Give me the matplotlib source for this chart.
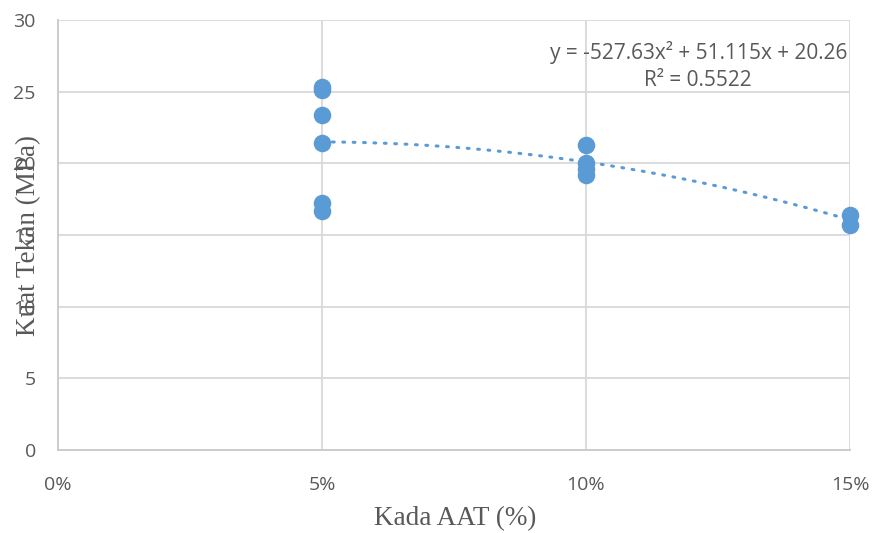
import numpy as np
import matplotlib
matplotlib.use("Agg")
import matplotlib.pyplot as plt
from matplotlib.ticker import FuncFormatter

# Data
kadar_aat = [0.05, 0.05, 0.05, 0.05, 0.05, 0.05, 0.10, 0.10, 0.10, 0.10, 0.15, 0.15]
kuat_tekan = [25.3, 25.1, 23.4, 21.4, 17.2, 16.7, 21.3, 20.0, 19.6, 19.2, 16.4, 15.7]
trend_coef = [-527.63, 51.115, 20.26]
x_ticks = [0.0, 0.05, 0.10, 0.15]
y_ticks = [0, 5, 10, 15, 20, 25, 30]
eq_text = "y = -527.63x² + 51.115x + 20.26"
r2_text = "R² = 0.5522"

blue = "#5b9bd5"
grey_txt = "#595959"
grid_c = "#d9d9d9"

fig = plt.figure(figsize=(8.73, 5.33), dpi=100)
ax = fig.add_axes([58/873, 1-450/533, (850-58)/873, (450-20)/533])

ax.set_xlim(0, 0.15)
ax.set_ylim(0, 30)
ax.set_xticks(x_ticks)
ax.set_yticks(y_ticks)
ax.xaxis.set_major_formatter(FuncFormatter(lambda v, p: f"{v*100:.0f}%"))
for side in ["top", "right"]:
    ax.spines[side].set_visible(False)
for side in ["left", "bottom"]:
    ax.spines[side].set_color("#cccccc")
    ax.spines[side].set_linewidth(1.4)
ax.grid(True, color=grid_c, linewidth=1.3)
ax.set_axisbelow(True)
ax.tick_params(length=0, labelsize=14, labelcolor=grey_txt)
ax.tick_params(axis="y", pad=16)
ax.tick_params(axis="x", pad=19)
for lab in ax.get_xticklabels() + ax.get_yticklabels():
    lab.set_family("Open Sans")

ax.scatter(kadar_aat, kuat_tekan, s=135, color=blue, zorder=3, clip_on=False)

xs = np.linspace(min(kadar_aat), max(kadar_aat), 200)
ax.plot(xs, np.polyval(trend_coef, xs), color=blue, linewidth=2.2,
        linestyle=(0, (0.6, 2.8)), dash_capstyle="round", zorder=4)

ax.text(0.1214, 27.75, eq_text, ha="center", va="center",
        fontsize=15, color=grey_txt, family="Open Sans")
ax.text(0.1211, 25.8, r2_text, ha="center", va="center",
        fontsize=15, color=grey_txt, family="Open Sans")

fig.text(29/873, 1-235/533, "Kuat Tekan (MPa)", rotation=90, ha="center", va="center",
         fontsize=19.5, color=grey_txt, family="Liberation Serif")
fig.text(455/873, 1-519/533, "Kada AAT (%)", ha="center", va="center",
         fontsize=19.5, color=grey_txt, family="Liberation Serif")

fig.savefig("out.png", dpi=100)
